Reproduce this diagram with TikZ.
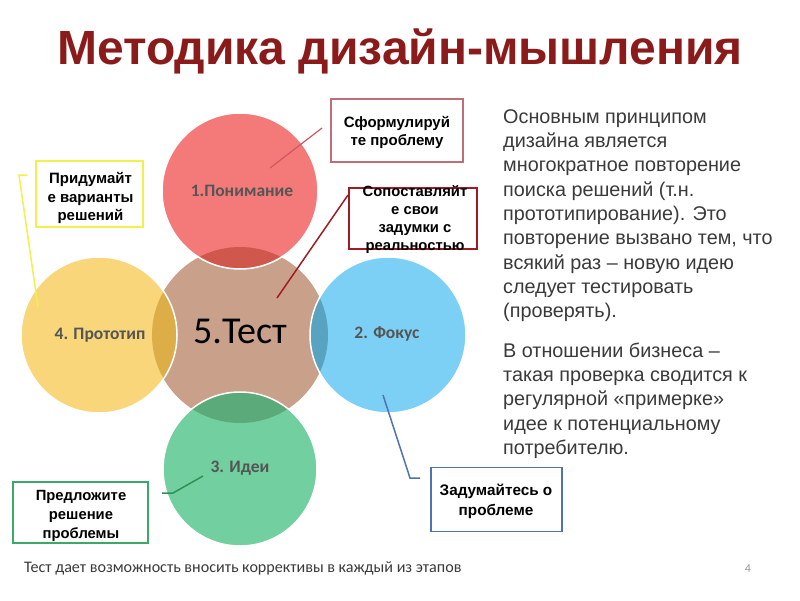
\documentclass[tikz,border=0pt]{standalone}
\usepackage{fontspec}
\setmainfont{Liberation Sans}
\newfontfamily\calfont{Carlito}
\definecolor{titlered}{HTML}{8B1A1A}
\definecolor{txtgray}{HTML}{3A3A3A}
\definecolor{lblgray}{HTML}{555555}
\definecolor{cbrown}{HTML}{C9A08A}
\definecolor{cred}{HTML}{F47A7A}
\definecolor{cyellow}{HTML}{F9D67A}
\definecolor{cblue}{HTML}{7DD0F5}
\definecolor{cgreen}{HTML}{72CFA0}
\definecolor{ored}{HTML}{D0574C}
\definecolor{oyellow}{HTML}{DDAE48}
\definecolor{oblue}{HTML}{58A3BF}
\definecolor{ogreen}{HTML}{5BAA7A}
\definecolor{bred}{HTML}{BF6E78}
\definecolor{bdark}{HTML}{A01C24}
\definecolor{byellow}{HTML}{F2F04A}
\definecolor{bgreen}{HTML}{3AAA6A}
\definecolor{bblue}{HTML}{4E73B0}
\begin{document}
\begin{tikzpicture}[x=1pt,y=-1pt,
  boxframe/.style={draw, line width=1.5pt, fill=white, minimum width=#1, inner sep=0pt},
  boxtext/.style={font=\fontsize{15}{18}\selectfont\bfseries, align=center, text=black, inner sep=0pt},
  circlbl/.style={font=\calfont\fontsize{17.5}{19}\selectfont\bfseries, text=lblgray},
  bodyline/.style={font=\fontsize{19.8}{24}\selectfont, text=txtgray, anchor=base west, inner sep=0pt},
  conn/.style={line width=1.5pt}
]
\useasboundingbox (0,0) rectangle (800,600);
\fill[white] (0,0) rectangle (800,600);

% title
\node[font=\fontsize{48}{56}\selectfont\bfseries, text=titlered, anchor=base] (title) at (400,64) {Методика дизайн-мышления};

% circle centres
\coordinate (cT) at (240,335);
\coordinate (c1) at (240,191);
\coordinate (c4) at (99,335);
\coordinate (c2) at (388,335);
\coordinate (c3) at (240,469);

\fill[cbrown] (cT) circle[radius=88pt];
\fill[cred] (c1) circle[radius=78pt];
\fill[cyellow] (c4) circle[radius=78pt];
\fill[cblue] (c2) circle[radius=78pt];
\fill[cgreen] (c3) circle[radius=77pt];
\begin{scope}
  \clip (cT) circle[radius=88pt];
  \fill[ored] (c1) circle[radius=78pt];
  \fill[oyellow] (c4) circle[radius=78pt];
  \fill[oblue] (c2) circle[radius=78pt];
  \fill[ogreen] (c3) circle[radius=77pt];
\end{scope}
\foreach \c/\r in {c1/78,c4/78,c2/78,c3/77} \draw[white, line width=1.5pt] (\c) circle[radius=\r pt];

% circle labels
\node[circlbl] (l1) at (242,191) {1.Понимание};
\node[circlbl] (l4) at (100,335) {4. Прототип};
\node[circlbl] (l2) at (387,334) {2. Фокус};
\node[circlbl] (l3) at (240,468) {3. Идеи};
\node[font=\calfont\fontsize{38}{40}\selectfont, text=black, anchor=base] (l5) at (240,343) {5.Тест};

% boxes
\node[boxframe=132pt, minimum height=63pt, draw=bred] (b1) at (397,130.5) {};
\node[boxframe=128pt, minimum height=61pt, draw=bdark] (b2) at (413,218.5) {};
\node[boxframe=107pt, minimum height=66pt, draw=byellow, line width=2pt] (b3) at (89.5,194) {};
\node[boxframe=135pt, minimum height=61pt, draw=bgreen] (b4) at (80.5,512.5) {};
\node[boxframe=131pt, minimum height=64pt, draw=bblue] (b5) at (496.5,499.5) {};

\node[boxtext] (t1) at (397,132.5) {Сформулируй\\те проблему};
\node[boxtext, font=\fontsize{14.8}{18}\selectfont\bfseries] (t2) at (415,219.5) {Сопоставляйт\\е свои\\задумки с\\реальностью};
\node[boxtext, font=\fontsize{15}{18.5}\selectfont\bfseries] (t3) at (90.5,198) {Придумайт\\е варианты\\решений};
\node[boxtext, font=\fontsize{14.8}{19}\selectfont\bfseries] (t4) at (81,516) {Предложите\\решение\\проблемы};
\node[boxtext, font=\fontsize{15.3}{20}\selectfont\bfseries] (t5) at (496,501.5) {Задумайтесь о\\проблеме};

% connectors
\coordinate (k1a) at (322,128); \coordinate (k1b) at (270,168);
\draw[conn, color=bred!80!red, line width=1.2pt] (k1a) -- (k1b);
\coordinate (k2a) at (348,195); \coordinate (k2b) at (277,298);
\draw[conn, color=bdark] (k2a) -- (k2b);
\coordinate (k3a) at (27,175); \coordinate (k3m) at (19,175); \coordinate (k3b) at (38,307);
\draw[conn, color=byellow] (k3a) -- (k3m) -- (k3b);
\coordinate (k4a) at (162,493); \coordinate (k4m) at (173,493); \coordinate (k4b) at (203,476);
\draw[conn, color=bgreen!85!black] (k4a) -- (k4m) -- (k4b);
\coordinate (k5a) at (383,395); \coordinate (k5m) at (410,478); \coordinate (k5b) at (420,478);
\draw[conn, color=bblue] (k5a) -- (k5m) -- (k5b);

% right text
\node[bodyline] (r1) at (503,123) {Основным принципом};
\node[bodyline] (r2) at (503,147.4) {дизайна является};
\node[bodyline] (r3) at (503,171.7) {многократное повторение};
\node[bodyline] (r4) at (503,196) {поиска решений (т.н.};
\node[bodyline] (r5) at (503,220.4) {прототипирование). Это};
\node[bodyline] (r6) at (503,244.7) {повторение вызвано тем, что};
\node[bodyline] (r7) at (503,269) {всякий раз – новую идею};
\node[bodyline] (r8) at (503,293.4) {следует тестировать};
\node[bodyline] (r9) at (503,317.8) {(проверять).};
\node[bodyline] (s1) at (503,357) {В отношении бизнеса –};
\node[bodyline] (s2) at (503,381.4) {такая проверка сводится к};
\node[bodyline] (s3) at (503,405.7) {регулярной «примерке»};
\node[bodyline] (s4) at (503,430) {идее к потенциальному};
\node[bodyline] (s5) at (503,454.4) {потребителю.};

% footer
\node[font=\calfont\fontsize{16.1}{18}\selectfont, text=txtgray, anchor=base west, inner sep=0pt] (foot) at (24,572) {Тест дает возможность вносить коррективы в каждый из этапов};
\node[font=\calfont\fontsize{12}{14}\selectfont, text=black!40, anchor=base, inner sep=0pt] (pg) at (748,572) {4};
\end{tikzpicture}
\end{document}
